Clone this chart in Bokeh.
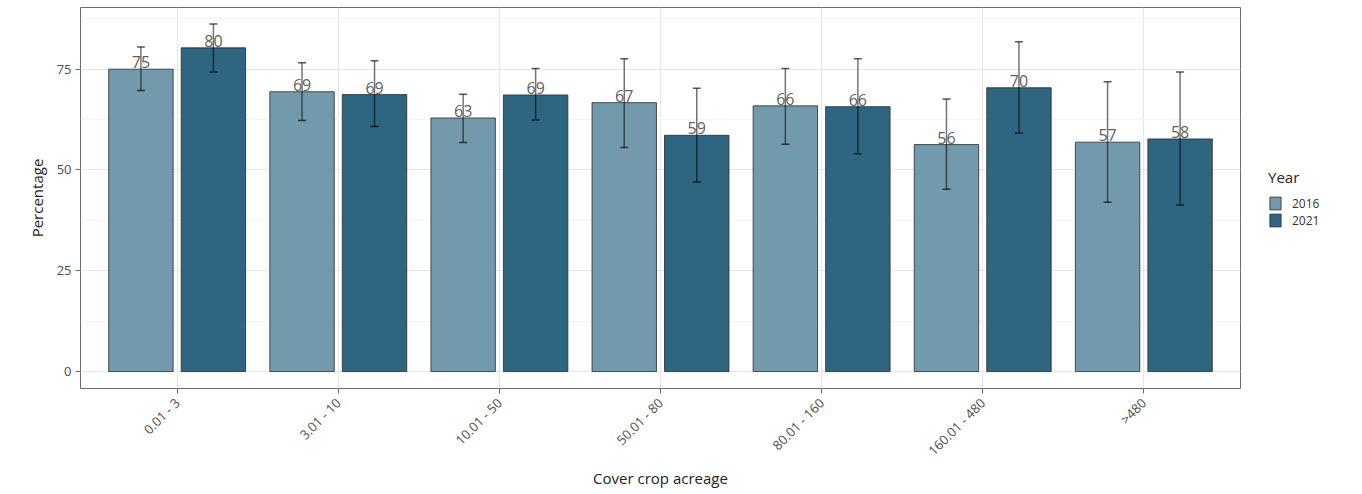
import numpy as np
from bokeh.plotting import figure
from bokeh.models import (ColumnDataSource, Range1d, FixedTicker, SingleIntervalTicker,
                          Legend, LegendItem, Whisker)
from bokeh.embed import file_html
from bokeh.resources import INLINE
from bokeh.core.properties import value

categories = ["0.01 - 3", "3.01 - 10", "10.01 - 50", "50.01 - 80",
              "80.01 - 160", "160.01 - 480", ">480"]
years = ["2016", "2021"]

pct_2016 = [75.0, 69.4, 62.9, 66.7, 65.9, 56.3, 56.9]
pct_2021 = [80.3, 68.7, 68.6, 58.6, 65.7, 70.4, 57.7]

lower_2016 = [69.7, 62.3, 56.8, 55.6, 56.4, 45.2, 42.0]
upper_2016 = [80.5, 76.6, 68.8, 77.6, 75.2, 67.6, 71.9]
lower_2021 = [74.3, 60.8, 62.4, 47.0, 54.0, 59.2, 41.3]
upper_2021 = [86.2, 77.1, 75.2, 70.3, 77.6, 81.8, 74.3]

colors = {"2016": "#7399AC", "2021": "#2E6580"}
FONT = "Open Sans"

pos = np.arange(1, len(categories) + 1)

p = figure(frame_width=1160, frame_height=381, output_backend="svg", toolbar_location=None,
           x_range=Range1d(0.4, 7.6), y_range=Range1d(-4.2, 90.3),
           min_border_left=80, min_border_right=20, min_border_top=7,
           min_border_bottom=80)

p.background_fill_color = "white"
p.outline_line_color = "#6b6b6b"
p.outline_line_width = 1

# grids
p.xgrid.grid_line_color = "#E6E6E6"
p.ygrid.grid_line_color = "#E6E6E6"
p.ygrid.minor_grid_line_color = "#F4F4F4"

offsets = {"2016": -0.225, "2021": 0.225}
data = {"2016": (pct_2016, lower_2016, upper_2016),
        "2021": (pct_2021, lower_2021, upper_2021)}

renderers = {}
for yr in years:
    vals, lo, hi = data[yr]
    src = ColumnDataSource(dict(x=pos + offsets[yr], top=vals, lower=lo, upper=hi,
                                label=[str(int(round(v))) for v in vals]))
    r = p.vbar(x="x", top="top", bottom=0, width=0.4, source=src,
               fill_color=colors[yr], line_color="#2b2b2b", line_width=1, line_alpha=0.8)
    renderers[yr] = r
    w = Whisker(base="x", lower="lower", upper="upper", source=src, level="annotation",
                line_color="black", line_alpha=0.55, line_width=1.5)
    for head in (w.upper_head, w.lower_head):
        head.size = 8
        head.line_color = "black"
        head.line_alpha = 0.65
        head.line_width = 1.5
    p.add_layout(w)
    t = p.text(x="x", y="top", text="label", source=src, text_align="center",
               text_baseline="bottom", text_font=value(FONT), text_font_size="16px",
               text_color="#4a4a4a", text_alpha=0.9, y_offset=-1)
    t.level = "overlay"

# axes
p.xaxis.ticker = FixedTicker(ticks=list(pos))
p.xaxis.major_label_overrides = {int(i): c for i, c in zip(pos, categories)}
p.xaxis.major_label_orientation = np.pi / 4
p.xaxis.axis_label = "Cover crop acreage"
p.yaxis.axis_label = "Percentage"
p.yaxis.ticker = SingleIntervalTicker(interval=25, num_minor_ticks=2)

for ax in (p.xaxis[0], p.yaxis[0]):
    ax.axis_line_color = None
    ax.major_tick_line_color = "#6b6b6b"
    ax.major_tick_in = 0
    ax.major_tick_out = 5
    ax.minor_tick_line_color = None
    ax.major_label_text_font = FONT
    ax.major_label_text_color = "#4d4d4d"
    ax.axis_label_text_font = FONT
    ax.axis_label_text_font_style = "normal"
    ax.axis_label_text_font_size = "15px"
    ax.axis_label_text_color = "#222222"

p.xaxis.major_label_text_font_size = "13px"
p.yaxis.major_label_text_font_size = "13px"
p.xaxis.major_label_standoff = 7
p.yaxis.major_label_standoff = 4
p.xaxis.axis_label_standoff = 0
p.yaxis.axis_label_standoff = 7

legend = Legend(items=[LegendItem(label=yr, renderers=[renderers[yr]]) for yr in years],
                title="Year", location="center_left")
legend.title_text_font = FONT
legend.title_text_font_size = "15px"
legend.title_text_font_style = "normal"
legend.title_text_color = "#222222"
legend.title_standoff = 8
legend.label_text_font = FONT
legend.label_text_font_size = "12px"
legend.label_text_color = "#333333"
legend.glyph_width = 14
legend.glyph_height = 16
legend.label_height = 16
legend.spacing = 0
legend.padding = 5
legend.margin = 28
legend.border_line_color = None
legend.background_fill_color = None
legend.label_standoff = 10
p.add_layout(legend, "right")

open("out.html", "w").write(file_html(p, INLINE))
